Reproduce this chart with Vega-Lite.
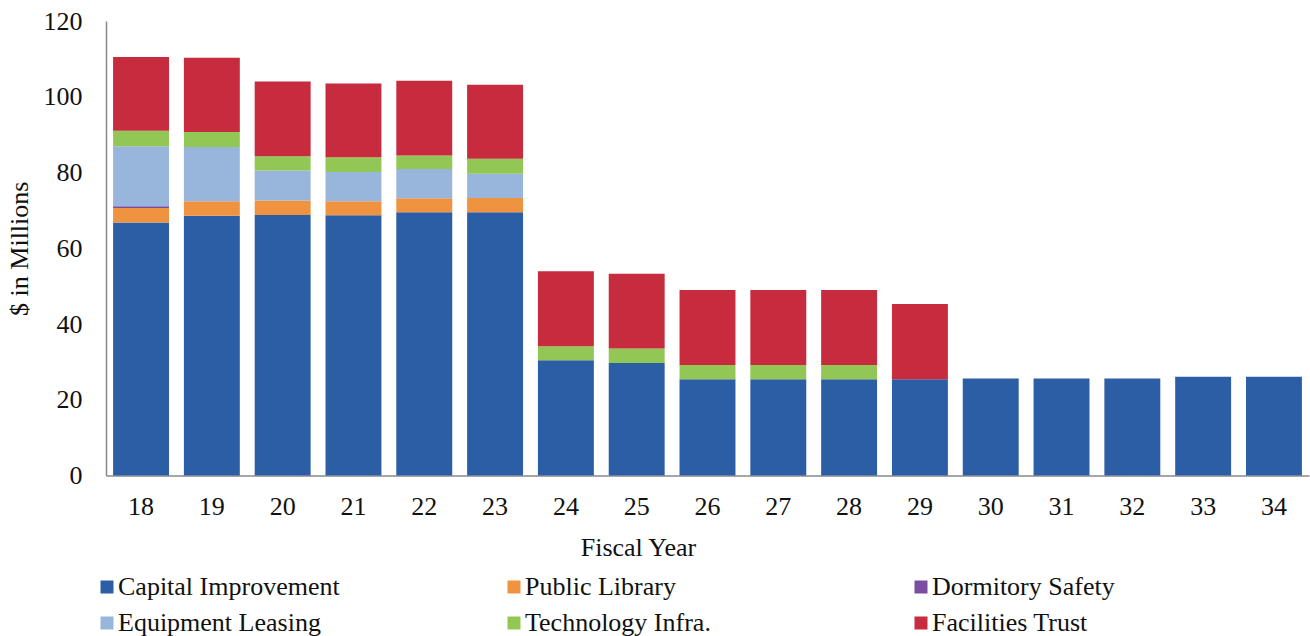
{
  "$schema": "https://vega.github.io/schema/vega-lite/v6.json",
  "autosize": "none",
  "width": 1203,
  "height": 454.5,
  "padding": {"left": 106, "top": 21, "right": 1, "bottom": 160.5},
  "background": "white",
  "config": {
    "font": "Liberation Serif",
    "view": {"stroke": null},
    "axis": {"labelFont": "Liberation Serif", "titleFont": "Liberation Serif", "labelColor": "#111", "titleColor": "#111", "titleFontWeight": "normal"},
    "legend": {"labelFont": "Liberation Serif"}
  },
  "data": {
    "values": [
      {"fy": "18", "series": "Capital Improvement", "k": 1, "value": 66.8},
      {"fy": "18", "series": "Public Library", "k": 2, "value": 3.8},
      {"fy": "18", "series": "Dormitory Safety", "k": 3, "value": 0.5},
      {"fy": "18", "series": "Equipment Leasing", "k": 4, "value": 15.8},
      {"fy": "18", "series": "Technology Infra.", "k": 5, "value": 4.1},
      {"fy": "18", "series": "Facilities Trust", "k": 6, "value": 19.5},
      {"fy": "19", "series": "Capital Improvement", "k": 1, "value": 68.6},
      {"fy": "19", "series": "Public Library", "k": 2, "value": 3.8},
      {"fy": "19", "series": "Equipment Leasing", "k": 4, "value": 14.3},
      {"fy": "19", "series": "Technology Infra.", "k": 5, "value": 4.0},
      {"fy": "19", "series": "Facilities Trust", "k": 6, "value": 19.6},
      {"fy": "20", "series": "Capital Improvement", "k": 1, "value": 68.8},
      {"fy": "20", "series": "Public Library", "k": 2, "value": 3.8},
      {"fy": "20", "series": "Equipment Leasing", "k": 4, "value": 7.9},
      {"fy": "20", "series": "Technology Infra.", "k": 5, "value": 3.8},
      {"fy": "20", "series": "Facilities Trust", "k": 6, "value": 19.7},
      {"fy": "21", "series": "Capital Improvement", "k": 1, "value": 68.7},
      {"fy": "21", "series": "Public Library", "k": 2, "value": 3.7},
      {"fy": "21", "series": "Equipment Leasing", "k": 4, "value": 7.7},
      {"fy": "21", "series": "Technology Infra.", "k": 5, "value": 3.9},
      {"fy": "21", "series": "Facilities Trust", "k": 6, "value": 19.5},
      {"fy": "22", "series": "Capital Improvement", "k": 1, "value": 69.5},
      {"fy": "22", "series": "Public Library", "k": 2, "value": 3.7},
      {"fy": "22", "series": "Equipment Leasing", "k": 4, "value": 7.7},
      {"fy": "22", "series": "Technology Infra.", "k": 5, "value": 3.6},
      {"fy": "22", "series": "Facilities Trust", "k": 6, "value": 19.7},
      {"fy": "23", "series": "Capital Improvement", "k": 1, "value": 69.5},
      {"fy": "23", "series": "Public Library", "k": 2, "value": 3.8},
      {"fy": "23", "series": "Equipment Leasing", "k": 4, "value": 6.4},
      {"fy": "23", "series": "Technology Infra.", "k": 5, "value": 3.9},
      {"fy": "23", "series": "Facilities Trust", "k": 6, "value": 19.6},
      {"fy": "24", "series": "Capital Improvement", "k": 1, "value": 30.4},
      {"fy": "24", "series": "Technology Infra.", "k": 5, "value": 3.7},
      {"fy": "24", "series": "Facilities Trust", "k": 6, "value": 19.8},
      {"fy": "25", "series": "Capital Improvement", "k": 1, "value": 29.7},
      {"fy": "25", "series": "Technology Infra.", "k": 5, "value": 3.8},
      {"fy": "25", "series": "Facilities Trust", "k": 6, "value": 19.8},
      {"fy": "26", "series": "Capital Improvement", "k": 1, "value": 25.4},
      {"fy": "26", "series": "Technology Infra.", "k": 5, "value": 3.8},
      {"fy": "26", "series": "Facilities Trust", "k": 6, "value": 19.8},
      {"fy": "27", "series": "Capital Improvement", "k": 1, "value": 25.4},
      {"fy": "27", "series": "Technology Infra.", "k": 5, "value": 3.8},
      {"fy": "27", "series": "Facilities Trust", "k": 6, "value": 19.8},
      {"fy": "28", "series": "Capital Improvement", "k": 1, "value": 25.4},
      {"fy": "28", "series": "Technology Infra.", "k": 5, "value": 3.8},
      {"fy": "28", "series": "Facilities Trust", "k": 6, "value": 19.8},
      {"fy": "29", "series": "Capital Improvement", "k": 1, "value": 25.4},
      {"fy": "29", "series": "Facilities Trust", "k": 6, "value": 19.9},
      {"fy": "30", "series": "Capital Improvement", "k": 1, "value": 25.6},
      {"fy": "31", "series": "Capital Improvement", "k": 1, "value": 25.6},
      {"fy": "32", "series": "Capital Improvement", "k": 1, "value": 25.6},
      {"fy": "33", "series": "Capital Improvement", "k": 1, "value": 26.1},
      {"fy": "34", "series": "Capital Improvement", "k": 1, "value": 26.1}
    ]
  },
  "mark": {"type": "bar"},
  "encoding": {
    "x": {
      "field": "fy", "type": "ordinal", "sort": null,
      "scale": {"paddingInner": 0.21, "paddingOuter": 0.1},
      "axis": {
        "title": "Fiscal Year", "labelAngle": 0, "ticks": false,
        "domainColor": "#888", "domainWidth": 1.5,
        "labelFont": "Liberation Serif", "titleFont": "Liberation Serif",
        "labelFontSize": 26, "labelPadding": 18,
        "titleFontSize": 26, "titlePadding": 15, "titleX": 532
      }
    },
    "y": {
      "field": "value", "type": "quantitative", "stack": "zero",
      "scale": {"domain": [0, 120], "nice": false},
      "axis": {
        "title": "$ in Millions", "values": [0, 20, 40, 60, 80, 100, 120],
        "grid": false, "ticks": false,
        "domainColor": "#888", "domainWidth": 1.5,
        "labelFont": "Liberation Serif", "titleFont": "Liberation Serif",
        "labelFontSize": 26, "labelPadding": 24,
        "titleFontSize": 26, "titlePadding": 11
      }
    },
    "color": {
      "field": "series", "type": "nominal",
      "sort": ["Capital Improvement", "Public Library", "Dormitory Safety", "Equipment Leasing", "Technology Infra.", "Facilities Trust"],
      "scale": {
        "domain": ["Capital Improvement", "Public Library", "Dormitory Safety", "Equipment Leasing", "Technology Infra.", "Facilities Trust"],
        "range": ["#2c5ea6", "#ef9340", "#7b4c9f", "#98b6dc", "#92c655", "#c62b3e"]
      },
      "legend": {
        "title": null, "orient": "none", "direction": "horizontal", "columns": 3,
        "legendX": -12, "legendY": 553,
        "symbolType": "square", "symbolSize": 169, "symbolStrokeWidth": 0,
        "labelFont": "Liberation Serif",
        "labelFontSize": 26, "labelColor": "#111", "labelOffset": -2, "labelLimit": 400,
        "gridAlign": "all", "columnPadding": 161, "rowPadding": 10
      }
    },
    "order": {"field": "k", "type": "quantitative", "sort": "ascending"}
  }
}
